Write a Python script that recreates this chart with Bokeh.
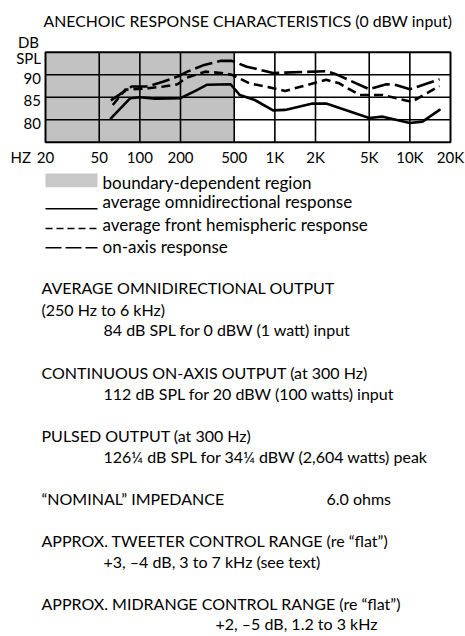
from bokeh.plotting import figure
from bokeh.models import Range1d, LinearScale
from bokeh.core.properties import value
from bokeh.embed import file_html
from bokeh.resources import INLINE

FONT = "Lato"

# ---------------- data ----------------
title_text = "ANECHOIC RESPONSE CHARACTERISTICS (0 dBW input)"
x_ticks = [20, 50, 100, 200, 500, 1000, 2000, 5000, 10000, 20000]
x_tick_labels = ["20", "50", "100", "200", "500", "1K", "2K", "5K", "10K", "20K"]
y_ticks = [80, 85, 90]
y_tick_labels = ["80", "85", "90"]
boundary_region = [20, 500]
y_limits = [75, 95]

omni_freq = [61, 85, 100, 130, 200, 260, 315, 470, 550, 710, 970, 1190, 1900,
             2400, 5000, 6300, 10000, 12400, 16600]
omni_db = [80.3, 84.8, 85.0, 84.7, 84.8, 86.5, 87.8, 87.9, 85.5, 84.4, 82.1,
           82.2, 83.6, 83.6, 80.4, 80.7, 79.3, 79.6, 82.2]

front_freq = [63, 78, 115, 150, 190, 220, 260, 305, 400, 480, 650, 920, 1190,
              2400, 3000, 4250, 6300, 10300, 16600]
front_db = [83.3, 86.7, 87.0, 87.4, 87.9, 89.3, 90.0, 90.7, 90.4, 90.0, 88.1,
            87.2, 86.4, 88.9, 88.1, 85.5, 85.5, 84.0, 87.5]

axis_freq = [61, 87, 115, 150, 190, 225, 300, 400, 480, 620, 710, 970, 2400,
             2800, 5000, 6700, 8000, 10000, 16600]
axis_db = [84.3, 87.4, 87.4, 88.5, 89.6, 90.7, 92.2, 93.1, 93.1, 91.8, 91.4,
           90.4, 90.8, 90.2, 86.8, 87.9, 87.7, 86.8, 89.0]

legend_labels = ["boundary-dependent region", "average omnidirectional response",
                 "average front hemispheric response", "on-axis response"]

spec_lines = [
    "AVERAGE OMNIDIRECTIONAL OUTPUT",
    "(250 Hz to 6 kHz)",
    "84 dB SPL for 0 dBW (1 watt) input",
    "CONTINUOUS ON-AXIS OUTPUT (at 300 Hz)",
    "112 dB SPL for 20 dBW (100 watts) input",
    "PULSED OUTPUT (at 300 Hz)",
    "126\u00bc dB SPL for 34\u00bc dBW (2,604 watts) peak",
    "\u201cNOMINAL\u201d IMPEDANCE",
    "6.0 ohms",
    "APPROX. TWEETER CONTROL RANGE (re \u201cflat\u201d)",
    "+3, \u20134 dB, 3 to 7 kHz (see text)",
    "APPROX. MIDRANGE CONTROL RANGE (re \u201cflat\u201d)",
    "+2, \u20135 dB, 1.2 to 3 kHz",
]

# ---------------- layout (page pixels) ----------------
W, H = 465, 636
FRAME_L, FRAME_R = 45.0, 450.0          # pixel span of 20 Hz .. 20 kHz
FRAME_T, FRAME_B = 51.8, 141.8          # pixel span of 95 dB .. 75 dB
decade_px = (FRAME_R - FRAME_L) / 3.0
db_px = (FRAME_B - FRAME_T) / (y_limits[1] - y_limits[0])

x_lo = x_ticks[0] * 10 ** (-FRAME_L / decade_px)
x_hi = x_ticks[0] * 10 ** ((W - FRAME_L) / decade_px)
y_hi = y_limits[1] + FRAME_T / db_px
y_lo = y_limits[1] - (H - FRAME_T) / db_px

spec_x = [41, 41, 103, 41, 103, 41, 103, 41, 326, 41, 103, 41, 215]
spec_y = [287.3, 309.0, 329.4, 371.5, 392.5, 434.5, 455.8, 497.5, 497.5,
          539.5, 560.9, 602.5, 623.2]

p = figure(width=W, height=H, x_axis_type="log",
           x_range=Range1d(x_lo, x_hi), y_range=Range1d(y_lo, y_hi),
           output_backend="svg", toolbar_location=None, min_border=0)
p.xaxis.visible = False
p.yaxis.visible = False
p.xgrid.visible = False
p.ygrid.visible = False
p.outline_line_color = None
p.background_fill_color = "white"
p.border_fill_color = "white"
p.extra_x_ranges = {"px": Range1d(0, W)}
p.extra_x_scales = {"px": LinearScale()}
p.extra_y_ranges = {"px": Range1d(H, 0)}
p.extra_y_scales = {"px": LinearScale()}

# boundary-dependent region
p.quad(left=[boundary_region[0]], right=[boundary_region[1]],
       bottom=[y_limits[0]], top=[y_limits[1]],
       fill_color="#c2c2c2", line_color=None)

# grid
gx = x_ticks[1:-1]
p.segment(x0=gx, x1=gx, y0=[y_limits[0]] * len(gx), y1=[y_limits[1]] * len(gx),
          line_color="black", line_width=1.6)
p.segment(x0=[x_ticks[0]] * len(y_ticks), x1=[x_ticks[-1]] * len(y_ticks),
          y0=y_ticks, y1=y_ticks, line_color="black", line_width=1.6)

# curves
p.line(omni_freq, omni_db, line_color="black", line_width=2.6,
       line_join="round", line_cap="round")
p.line(front_freq, front_db, line_color="black", line_width=2.6,
       line_dash="9 5", line_join="round")
p.line(axis_freq, axis_db, line_color="black", line_width=2.6,
       line_dash="18 5", line_join="round")

# frame
p.quad(left=[x_ticks[0]], right=[x_ticks[-1]], bottom=[y_limits[0]],
       top=[y_limits[1]], fill_color=None, line_color="black", line_width=2)

# tick labels
p.text(x=x_ticks, y=[156.7] * len(x_ticks), y_range_name="px", text=x_tick_labels,
       text_font=value(FONT), text_font_size="15px", text_align="center",
       text_baseline="middle", text_color="black")
p.text(x=[40.5] * len(y_ticks), x_range_name="px", y=y_ticks, text=y_tick_labels,
       y_offset=3.5, text_font=value(FONT), text_font_size="15px",
       text_align="right", text_baseline="middle", text_color="black")

# title and unit labels
p.text(x=[43], y=[20], text=[title_text], x_range_name="px", y_range_name="px",
       text_align="left", text_font=value(FONT), text_font_size="15.8px",
       text_baseline="middle", text_color="black")
p.text(x=[38.5, 40.5, 10], y=[41.7, 57.5, 156.7],
       text=["DB", "SPL", "HZ"],
       x_range_name="px", y_range_name="px",
       text_align=["right", "right", "left"],
       text_font=value(FONT), text_font_size="15px", text_baseline="middle",
       text_color="black")

# legend
p.quad(left=[45], right=[97], top=[173], bottom=[186.7], fill_color="#c8c8c8",
       line_color=None, x_range_name="px", y_range_name="px")
p.line([45, 97], [208.3, 208.3], line_color="black", line_width=1.6,
       x_range_name="px", y_range_name="px")
p.line([45, 97], [228, 228], line_color="black", line_width=1.6, line_dash="7 4",
       x_range_name="px", y_range_name="px")
p.line([45, 97], [247.3, 247.3], line_color="black", line_width=1.6,
       line_dash="16 4", x_range_name="px", y_range_name="px")
p.text(x=[102] * 4, y=[181.7, 200.5, 223.8, 246], text=legend_labels,
       x_range_name="px", y_range_name="px",
       text_font=value(FONT), text_font_size="17px", text_baseline="middle",
       text_align="left", text_color="black")

# specification text
p.text(x=spec_x, y=spec_y, text=spec_lines, x_range_name="px", y_range_name="px",
       text_font=value(FONT), text_font_size="16px", text_baseline="middle",
       text_align="left", text_color="black")

open("out.html", "w").write(file_html(p, INLINE))
